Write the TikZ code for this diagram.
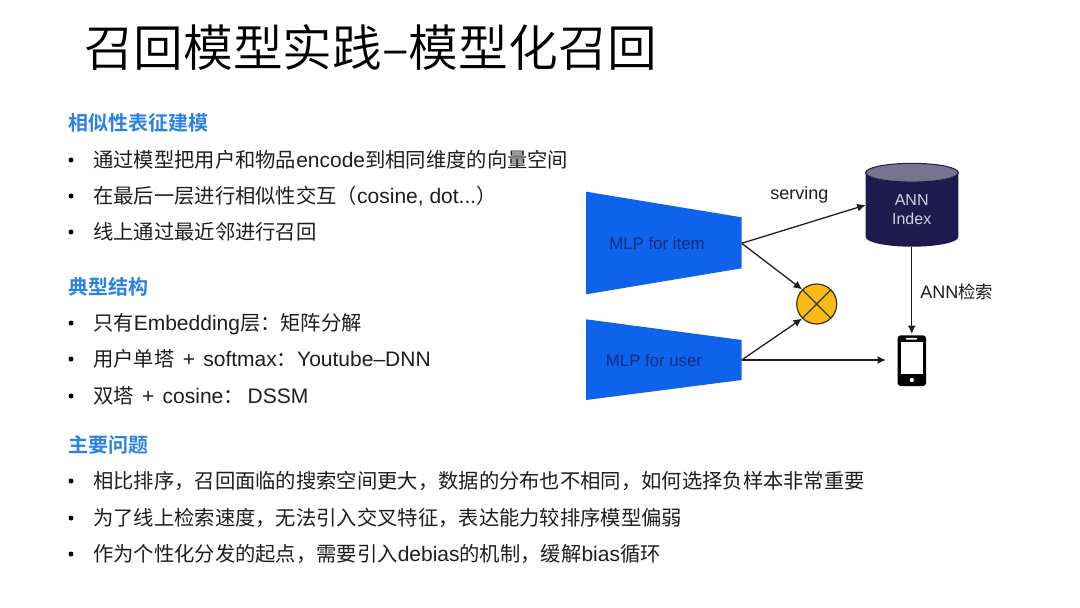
\documentclass[tikz,border=0pt]{standalone}
\usepackage{fontspec}
\setmainfont{Liberation Sans}
\newfontfamily\zhfont[Scale=0.967]{Noto Sans CJK SC}
\newfontfamily\zhbold{Noto Sans CJK SC Bold}
\newfontfamily\zhlight{Noto Sans CJK SC DemiLight}
\newcommand{\zh}[1]{{\zhfont #1}}
\newcommand{\plusgap}{\hspace{2.5pt}+\hspace{2.5pt}}
\usetikzlibrary{arrows.meta}
\definecolor{headblue}{HTML}{2A82E4}
\definecolor{bodytext}{HTML}{1E1E1E}
\definecolor{towerblue}{HTML}{0F62EA}
\definecolor{towertext}{HTML}{0F2E86}
\definecolor{navy}{HTML}{1E1A4E}
\definecolor{lidgray}{HTML}{77748F}
\definecolor{anntext}{HTML}{D2D1DC}
\definecolor{crossfill}{HTML}{F6BC15}
\definecolor{crossline}{HTML}{3F3210}
\tikzset{
  head/.style={anchor=base west,inner sep=0,text=headblue,font=\fontsize{20}{20}\zhbold},
  bodyline/.style={anchor=base west,inner sep=0,text=bodytext,font=\fontsize{21}{21}\selectfont},
  dotmark/.style={circle,fill=black,inner sep=0,minimum size=5pt},
  tower/.style={fill=towerblue,draw=none},
  towerlabel/.style={inner sep=0,text=towertext,font=\fontsize{16.8}{17}\selectfont},
  lbl/.style={inner sep=0,text=bodytext,font=\fontsize{18}{18}\selectfont},
  link/.style={draw=black!88,line width=1.3pt,-{Latex[length=8.5pt,width=8pt]}},
}
\begin{document}
\begin{tikzpicture}[x=1pt,y=-1pt]
\useasboundingbox (0,0) rectangle (1080,608);
\fill[white] (0,0) rectangle (1080,608);
% title
\node[anchor=base west,inner sep=0,text=black,font=\fontsize{49.7}{50}\zhlight] (title) at (84,66) {召回模型实践–模型化召回};
% section 1
\node[head] (h1) at (68,130) {相似性表征建模};
\node[dotmark] (b1) at (71,160) {};
\node[bodyline] (t1) at (93,167) {\zh{通过模型把用户和物品}encode\zh{到相同维度的向量空间}};
\node[dotmark] (b2) at (71,196) {};
\node[bodyline] (t2) at (93,203) {\zh{在最后一层进行相似性交互（}cosine, dot...\zh{）}};
\node[dotmark] (b3) at (71,232) {};
\node[bodyline] (t3) at (93,239) {\zh{线上通过最近邻进行召回}};
% section 2
\node[head] (h2) at (68,294) {典型结构};
\node[dotmark] (b4) at (71,323) {};
\node[bodyline] (t4) at (93,330) {\zh{只有}Embedding\zh{层：矩阵分解}};
\node[dotmark] (b5) at (71,359) {};
\node[bodyline] (t5) at (93,366) {\zh{用户单塔} \plusgap{} softmax\zh{：}Youtube–DNN};
\node[dotmark] (b6) at (71,396) {};
\node[bodyline] (t6) at (93,403) {\zh{双塔} \plusgap{} cosine\zh{：} \hspace{-2pt}DSSM};
% section 3
\node[head] (h3) at (68,452) {主要问题};
\node[dotmark] (b7) at (71,481) {};
\node[bodyline] (t7) at (93,488) {\zh{相比排序，召回面临的搜索空间更大，数据的分布也不相同，如何选择负样本非常重要}};
\node[dotmark] (b8) at (71,518) {};
\node[bodyline] (t8) at (93,525) {\zh{为了线上检索速度，无法引入交叉特征，表达能力较排序模型偏弱}};
\node[dotmark] (b9) at (71,554) {};
\node[bodyline] (t9) at (93,561) {\zh{作为个性化分发的起点，需要引入}debias\zh{的机制，缓解}bias\zh{循环}};
% towers
\fill[tower] (586,191.7) -- (741.7,217.3) -- (741.7,268.3) -- (586,294.3) -- cycle;
\fill[tower] (586,319.3) -- (741.7,340) -- (741.7,380) -- (586,400) -- cycle;
\node[towerlabel] (item) at (657,243) {MLP for item};
\node[towerlabel] (user) at (654,360.7) {MLP for user};
\coordinate (itemout) at (741.7,243.3);
\coordinate (userout) at (741.7,360);
% cylinder
\fill[navy] (865.7,172.7) -- (865.7,237) arc[start angle=180,end angle=0,x radius=46.3,y radius=9.7] -- (958.3,172.7) -- cycle;
\fill[lidgray,draw=navy,line width=1pt] (912,172.7) ellipse[x radius=46.3,y radius=9.4];
\node[inner sep=0,text=anntext,font=\fontsize{16}{16}\selectfont] (annA) at (911.7,200) {ANN};
\node[inner sep=0,text=anntext,font=\fontsize{16}{16}\selectfont] (annB) at (911.7,218.3) {Index};
\coordinate (annleft) at (865.7,205);
\coordinate (annbot) at (911.7,246.7);
% operator
\node[circle,fill=crossfill,draw=crossline,line width=1.2pt,minimum size=40pt,inner sep=0] (op) at (816.7,304) {};
\draw[crossline,line width=1.3pt] (op.45) -- (op.225) (op.135) -- (op.315);
% phone
\fill[black,rounded corners=3pt] (897.7,335.3) rectangle (926,386);
\fill[white] (900.7,341.7) rectangle (922.7,374);
\fill[white,rounded corners=.5pt] (906,337.8) rectangle (917,339.6);
\fill[white] (911.8,380) circle[radius=2.1];
\coordinate (phonetop) at (911.7,334);
\coordinate (phoneleft) at (886,360);
% connectors
\draw[link] (itemout) -- (annleft);
\draw[link] (itemout) -- (op.135);
\draw[link] (userout) -- (op.225);
\draw[link] (userout) -- (phoneleft);
\draw[link] (annbot) -- (phonetop);
% labels
\node[lbl] (serving) at (799.3,195) {serving};
\node[lbl] (anns) at (956.7,291.7) {ANN\zh{检索}};
\end{tikzpicture}
\end{document}
